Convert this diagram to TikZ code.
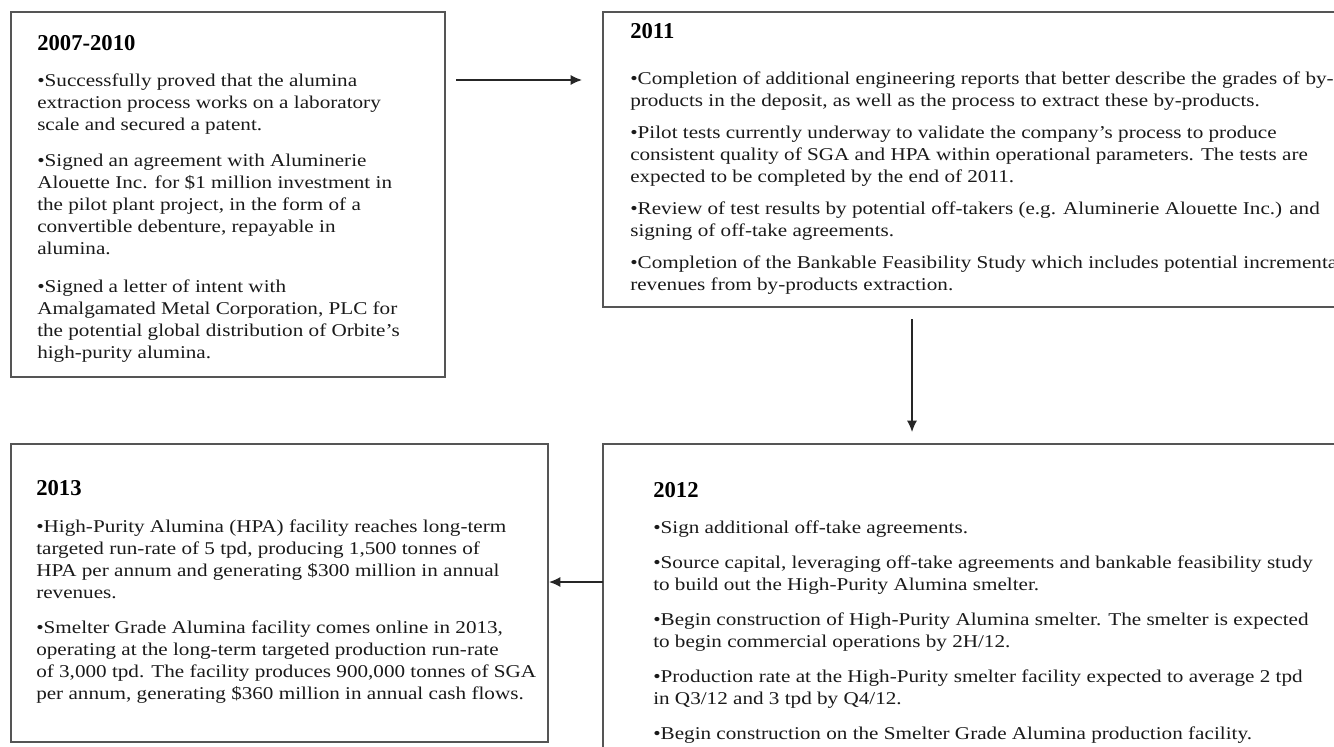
\documentclass[tikz,border=0pt]{standalone}
\usepackage{fontspec}
\setmainfont{Liberation Serif}
\newfontfamily\bodyfont{Liberation Serif}[FakeStretch=1.175]
\usetikzlibrary{calc,arrows.meta}
\definecolor{boxgray}{HTML}{555555}
\definecolor{txt}{HTML}{1A1A1A}
\begin{document}
\begin{tikzpicture}[x=0.75pt,y=-0.75pt,
  box/.style={draw=boxgray, line width=1.2pt, inner sep=0pt, outer sep=0pt, anchor=north west},
  head/.style={anchor=base west, inner sep=0pt, font=\fontsize{17}{20}\selectfont\bfseries, text=black},
  tline/.style={anchor=base west, inner sep=0pt, font=\bodyfont\fontsize{13.5}{16}\selectfont, text=txt},
  arr/.style={-{Latex[length=8.5pt,width=7.5pt]}, line width=1pt, draw=black!85}]
\useasboundingbox (0,0) rectangle (1334,746);
\fill[white] (0,0) rectangle (1334,746);

% boxes
\node[box, minimum width=325.5pt, minimum height=273.75pt] (b1) at (11,12) {};
\node[box, minimum width=556.5pt, minimum height=221.25pt] (b2) at (603,12) {};
\node[box, minimum width=556.5pt, minimum height=237pt] (b3) at (603,444) {};
\node[box, minimum width=402.75pt, minimum height=223.5pt] (b4) at (11,444) {};

% box 1
\node[head] (h1) at (37,50) {2007-2010};
\node[tline] (a1) at (37,86) {•Successfully proved that the alumina};
\node[tline] (a2) at (37,108) {extraction process works on a laboratory};
\node[tline] (a3) at (37,130) {scale and secured a patent.};
\node[tline] (a4) at (37,166) {•Signed an agreement with Aluminerie};
\node[tline] (a5) at (37,188) {Alouette Inc. for \$1 million investment in};
\node[tline] (a6) at (37,210) {the pilot plant project, in the form of a};
\node[tline] (a7) at (37,232) {convertible debenture, repayable in};
\node[tline] (a8) at (37,254) {alumina.};
\node[tline] (a9) at (37,292) {•Signed a letter of intent with};
\node[tline] (a10) at (37,314) {Amalgamated Metal Corporation, PLC for};
\node[tline] (a11) at (37,336) {the potential global distribution of Orbite’s};
\node[tline] (a12) at (37,358) {high-purity alumina.};

% box 2
\node[head] (h2) at (630,38) {2011};
\node[tline] (c1) at (630,84) {•Completion of additional engineering reports that better describe the grades of by-};
\node[tline] (c2) at (630,106) {products in the deposit, as well as the process to extract these by-products.};
\node[tline] (c3) at (630,138) {•Pilot tests currently underway to validate the company’s process to produce};
\node[tline] (c4) at (630,160) {consistent quality of SGA and HPA within operational parameters. The tests are};
\node[tline] (c5) at (630,182) {expected to be completed by the end of 2011.};
\node[tline] (c6) at (630,214) {•Review of test results by potential off-takers (e.g. Aluminerie Alouette Inc.) and};
\node[tline] (c7) at (630,236) {signing of off-take agreements.};
\node[tline] (c8) at (630,268) {•Completion of the Bankable Feasibility Study which includes potential incremental};
\node[tline] (c9) at (630,290) {revenues from by-products extraction.};

% box 3
\node[head] (h3) at (653,497) {2012};
\node[tline] (d1) at (653,533) {•Sign additional off-take agreements.};
\node[tline] (d2) at (653,568) {•Source capital, leveraging off-take agreements and bankable feasibility study};
\node[tline] (d3) at (653,590) {to build out the High-Purity Alumina smelter.};
\node[tline] (d4) at (653,625) {•Begin construction of High-Purity Alumina smelter. The smelter is expected};
\node[tline] (d5) at (653,647) {to begin commercial operations by 2H/12.};
\node[tline] (d6) at (653,682) {•Production rate at the High-Purity smelter facility expected to average 2 tpd};
\node[tline] (d7) at (653,704) {in Q3/12 and 3 tpd by Q4/12.};
\node[tline] (d8) at (653,739) {•Begin construction on the Smelter Grade Alumina production facility.};

% box 4
\node[head] (h4) at (36,495) {2013};
\node[tline] (e1) at (36,532) {•High-Purity Alumina (HPA) facility reaches long-term};
\node[tline] (e2) at (36,554) {targeted run-rate of 5 tpd, producing 1,500 tonnes of};
\node[tline] (e3) at (36,576) {HPA per annum and generating \$300 million in annual};
\node[tline] (e4) at (36,598) {revenues.};
\node[tline] (e5) at (36,633) {•Smelter Grade Alumina facility comes online in 2013,};
\node[tline] (e6) at (36,655) {operating at the long-term targeted production run-rate};
\node[tline] (e7) at (36,677) {of 3,000 tpd. The facility produces 900,000 tonnes of SGA};
\node[tline] (e8) at (36,699) {per annum, generating \$360 million in annual cash flows.};

% connectors
\draw[arr] ($(b1.north east)+(11,68)$) -- ($(b2.north west)+(-21,68)$);
\draw[arr] ($(b2.south west)+(309,12)$) -- ($(b3.north west)+(309,-12)$);
\draw[arr] ($(b3.north west)+(0,138)$) -- ($(b4.north east)+(1,138)$);
\end{tikzpicture}
\end{document}
